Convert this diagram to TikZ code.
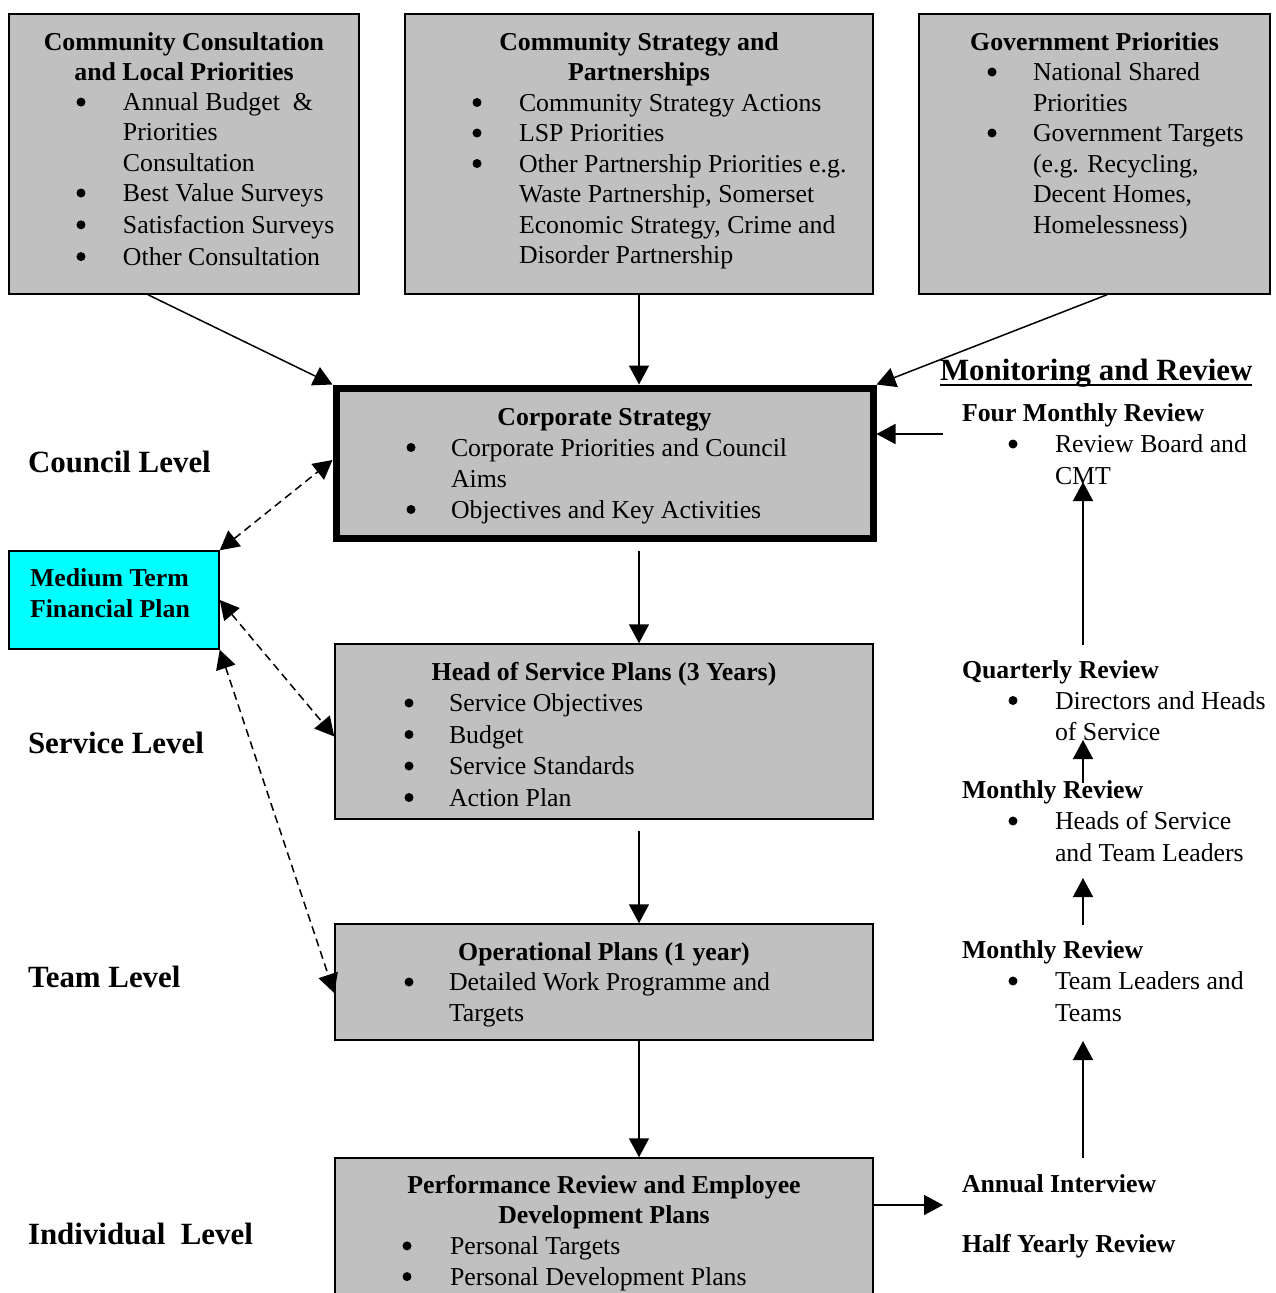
\documentclass[tikz,border=0pt]{standalone}
\usepackage{fontspec}
\setmainfont{Liberation Serif}
\usetikzlibrary{arrows.meta}
\definecolor{boxgray}{HTML}{C0C0C0}
\definecolor{mcyan}{HTML}{00FFFF}
\newlength\bulx \newlength\txtx
\newcommand{\bul}{\tikz[baseline={(0pt,-8.5pt)}]\fill[black] (0pt,0pt) circle (4.5pt);}
\newcommand{\hdr}[1]{{\centering\bfseries #1\par}}
\newcommand{\itm}[1]{\noindent\hspace*{\bulx}\makebox[0pt][c]{\bul}\hspace*{\dimexpr\txtx-\bulx\relax}#1\par}
\newcommand{\cnt}[1]{\noindent\hspace*{\txtx}#1\par}
\newcommand{\bhd}[1]{\noindent\textbf{#1}\par}
\newcommand{\setb}[3]{\fontsize{25.8pt}{#3}\selectfont\setlength\parskip{0pt}\setlength\bulx{#1}\setlength\txtx{#2}}
\tikzset{
  box/.style={draw=black, line width=1.5pt, fill=boxgray, rectangle, inner sep=0pt},
  txt/.style={anchor=base west, inner sep=0pt, outer sep=0pt, font=\fontsize{25.8pt}{31pt}\selectfont},
  big/.style={anchor=base west, inner sep=0pt, outer sep=0pt, font=\fontsize{30.9pt}{37pt}\selectfont\bfseries},
  arr/.style={line width=1.5pt, -{Triangle[length=19pt,width=20pt]}},
  darr/.style={line width=1.5pt, dash pattern=on 8pt off 5pt,
    {Triangle[length=19pt,width=20pt]}-{Triangle[length=19pt,width=20pt]}},
}
\begin{document}
\begin{tikzpicture}[x=1pt,y=-1pt]
\useasboundingbox (0,0) rectangle (1276,1293);
\fill[white] (0,0) rectangle (1276,1293);
\clip (0,0) rectangle (1276,1293);

% boxes
\node[box, minimum width=350pt, minimum height=280pt] (cc) at (184,154) {};
\node[box, minimum width=468pt, minimum height=280pt] (cs) at (639,154) {};
\node[box, minimum width=351pt, minimum height=280pt] (gp) at (1094.5,154) {};
\node[box, line width=7pt, minimum width=537pt, minimum height=150pt] (corp) at (604.5,463) {};
\node[box, fill=mcyan, minimum width=210pt, minimum height=98pt] (mtfp) at (114,600) {};
\node[box, minimum width=538pt, minimum height=175pt] (hos) at (604,731.5) {};
\node[box, minimum width=538pt, minimum height=116pt] (ops) at (604,982) {};
\node[box, minimum width=538pt, minimum height=172pt] (perf) at (604,1244) {};

% box texts
\node[txt] (cct) at (9,50) {\parbox[t]{350pt}{\setb{72pt}{114pt}{30.3pt}%
  \hdr{Community Consultation\\and Local Priorities}%
  \itm{Annual Budget\ \ \&}\cnt{Priorities}\cnt{Consultation}%
  \itm{Best Value Surveys}\vspace{1.5pt}\itm{Satisfaction Surveys}\vspace{1.5pt}\itm{Other Consultation}}};
\node[txt] (cst) at (405,50) {\parbox[t]{468pt}{\setb{72pt}{114pt}{30.5pt}%
  \hdr{Community Strategy and\\Partnerships}%
  \itm{Community Strategy Actions}\itm{LSP Priorities}%
  \itm{Other Partnership Priorities e.g.}\cnt{Waste Partnership, Somerset}%
  \cnt{Economic Strategy, Crime and}\cnt{Disorder Partnership}}};
\node[txt] (gpt) at (919,50) {\parbox[t]{351pt}{\setb{73pt}{114pt}{30.5pt}%
  \hdr{Government Priorities}%
  \itm{National Shared}\cnt{Priorities}%
  \itm{Government Targets}\cnt{(e.g. Recycling,}\cnt{Decent Homes,}\cnt{Homelessness)}}};
\node[txt] (corpt) at (336,425) {\parbox[t]{537pt}{\setb{75pt}{115pt}{31pt}%
  \hdr{Corporate Strategy}%
  \itm{Corporate Priorities and Council}\cnt{Aims}%
  \itm{Objectives and Key Activities}}};
\node[txt] (host) at (335,680) {\parbox[t]{538pt}{\setb{74pt}{114pt}{31.5pt}%
  \hdr{Head of Service Plans (3 Years)}%
  \itm{Service Objectives}\itm{Budget}\itm{Service Standards}\itm{Action Plan}}};
\node[txt] (opst) at (335,960) {\parbox[t]{538pt}{\setb{74pt}{114pt}{30.5pt}%
  \hdr{Operational Plans (1 year)}%
  \itm{Detailed Work Programme and}\cnt{Targets}}};
\node[txt] (perft) at (335,1193) {\parbox[t]{538pt}{\setb{72pt}{115pt}{30.7pt}%
  \hdr{Performance Review and Employee\\Development Plans}%
  \itm{Personal Targets}\itm{Personal Development Plans}}};
\node[txt] (mtfpt) at (30,586) {\parbox[t]{190pt}{\setb{0pt}{0pt}{31pt}%
  \bhd{Medium Term}\bhd{Financial Plan}}};

% level labels
\node[big] (cl) at (28,472) {Council Level};
\node[big] (sl) at (28,753) {Service Level};
\node[big] (tl) at (28,987) {Team Level};
\node[big] (il) at (28,1244) {Individual\ \ Level};

% monitoring column
\node[big] (mon) at (940,380) {Monitoring and Review};
\draw[line width=2.5pt] ([yshift=-5pt]mon.base west) -- ([yshift=-5pt]mon.base east);
\node[txt] (fmr) at (962,421) {\parbox[t]{320pt}{\setb{51pt}{93pt}{31.5pt}%
  \bhd{Four Monthly Review}\itm{Review Board and}\cnt{CMT}}};
\node[txt] (qr) at (962,678) {\parbox[t]{320pt}{\setb{51pt}{93pt}{31pt}%
  \bhd{Quarterly Review}\itm{Directors and Heads}\cnt{of Service}}};
\node[txt] (mr1) at (962,798) {\parbox[t]{320pt}{\setb{51pt}{93pt}{31.5pt}%
  \bhd{Monthly Review}\itm{Heads of Service}\cnt{and Team Leaders}}};
\node[txt] (mr2) at (962,958) {\parbox[t]{320pt}{\setb{51pt}{93pt}{31.5pt}%
  \bhd{Monthly Review}\itm{Team Leaders and}\cnt{Teams}}};
\node[txt, font=\fontsize{25.8pt}{31pt}\selectfont\bfseries] (ai) at (962,1192) {Annual Interview};
\node[txt, font=\fontsize{25.8pt}{31pt}\selectfont\bfseries] (hy) at (962,1252) {Half Yearly Review};

% connectors into corporate strategy
\draw[arr] ([xshift=-36pt]cc.south) -- (corp.north west);
\draw[arr] (cs.south) -- (cs.south |- corp.north);
\draw[arr] ([xshift=12.5pt]gp.south) -- (corp.north east);
\coordinate (fmin) at (943,434);
\draw[arr] (fmin) -- (fmin -| corp.east);

% dashed links with financial plan
\draw[darr] (mtfp.north east) -- ([yshift=3pt]corp.west);
\draw[darr] (mtfp.east) -- ([yshift=-5pt]hos.west);
\draw[darr] (mtfp.south east) -- ([yshift=-11pt]ops.west);

% cascade
\coordinate (d1) at (639,551);
\draw[arr] (d1) -- (d1 |- hos.north);
\coordinate (d2) at (639,831);
\draw[arr] (d2) -- (d2 |- ops.north);
\draw[arr] (d2 |- ops.south) -- (d2 |- perf.north);
\coordinate (r0) at (943,1205);
\draw[arr] (r0 -| perf.east) -- (r0);

% review chain
\coordinate (u1a) at (1083,1158); \coordinate (u1b) at (1083,1041);
\coordinate (u2a) at (1083,925);  \coordinate (u2b) at (1083,878);
\coordinate (u3a) at (1083,783);  \coordinate (u3b) at (1083,740);
\coordinate (u4a) at (1083,645);  \coordinate (u4b) at (1083,482);
\draw[arr] (u1a) -- (u1b);
\draw[arr] (u2a) -- (u2b);
\draw[arr] (u3a) -- (u3b);
\draw[arr] (u4a) -- (u4b);
\end{tikzpicture}
\end{document}
